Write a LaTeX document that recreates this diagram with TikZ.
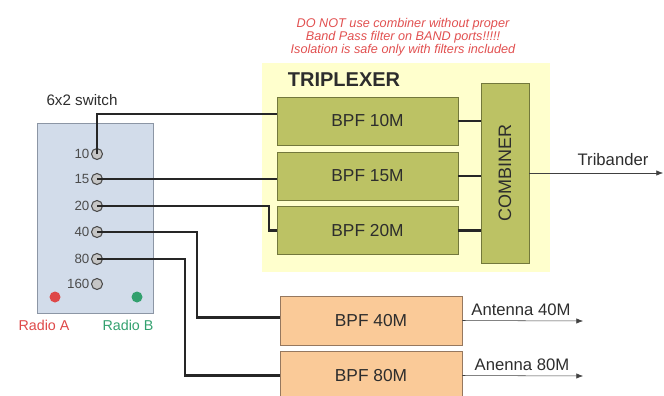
\documentclass[tikz,border=0pt]{standalone}
\usepackage{xcolor}
\usepackage{fontspec}
\setmainfont{Liberation Sans}
\usepackage{tikz}
\usetikzlibrary{arrows.meta,positioning,calc}

\definecolor{swfill}{RGB}{210,220,234}
\definecolor{swdraw}{RGB}{140,150,165}
\definecolor{tribg}{RGB}{255,255,205}
\definecolor{olivebox}{RGB}{188,194,100}
\definecolor{olivedraw}{RGB}{115,120,60}
\definecolor{orangebox}{RGB}{250,202,152}
\definecolor{orangedraw}{RGB}{150,120,95}
\definecolor{warnred}{RGB}{225,80,80}
\definecolor{radioA}{RGB}{222,72,72}
\definecolor{radioB}{RGB}{50,160,110}
\definecolor{txt}{RGB}{45,45,45}

\newcommand{\pu}{0.75pt}

\begin{document}
\begin{tikzpicture}[x=0.75pt, y=-0.75pt,
  bpf/.style={draw=olivedraw, fill=olivebox, minimum width=181*\pu, minimum height=48*\pu,
    inner sep=0pt, text=txt, font=\fontsize{13}{15}\selectfont},
  bpfo/.style={bpf, draw=orangedraw, fill=orangebox, minimum width=182*\pu, minimum height=49*\pu},
  port/.style={circle, draw=gray!60!black, line width=0.8pt, fill=gray!45, minimum size=11*\pu, inner sep=0pt},
  portlab/.style={font=\fontsize{10}{12}\selectfont, text=txt!85, inner sep=1pt},
  dot/.style={circle, minimum size=11*\pu, inner sep=0pt},
  wire/.style={line width=1.6pt, black!85},
  feed/.style={-{Latex[length=5pt,width=4pt]}, thin, black!75},
  lab/.style={font=\fontsize{12.5}{14}\selectfont, text=txt},
]
  \useasboundingbox (0,0) rectangle (664,396);

  % Warning note above the triplexer.
  \node[font=\fontsize{9.5}{9.6}\selectfont\itshape, text=warnred, align=center] (warn) at (403,37)
    {DO NOT use combiner without proper\\ Band Pass filter on BAND ports!!!!!\\ Isolation is safe only with filters included};

  % Switch box with its ports.
  \node[draw=swdraw, fill=swfill, minimum width=116*\pu, minimum height=190*\pu] (switch) at (95,218) {};
  \node[lab, font=\fontsize{11.4}{13}\selectfont] (swlab) at (82,100) {6x2 switch};
  \foreach \b/\y in {10/154, 15/179, 20/206, 40/232, 80/259, 160/284}
    \node[port, label={[portlab]left:\b}] (p\b) at (97,\y) {};
  \node[dot, fill=radioA] (dA) at (55,297) {};
  \node[dot, fill=radioB] (dB) at (137,297) {};
  \node[font=\fontsize{10.7}{12}\selectfont, text=radioA] (labA) at (44,325) {Radio A};
  \node[font=\fontsize{10.7}{12}\selectfont, text=radioB] (labB) at (128,325) {Radio B};

  % Triplexer: three filters and the combiner.
  \fill[tribg] (262,63) rectangle (550,272);
  \node[font=\fontsize{15}{17}\selectfont\bfseries, text=txt] (trilab) at (344,80) {TRIPLEXER};
  \node[bpf] (b10) at (367.5,121) {BPF 10M};
  \node[bpf] (b15) at (367.5,176) {BPF 15M};
  \node[bpf] (b20) at (367.5,230.5) {BPF 20M};
  \node[bpf, minimum width=48*\pu, minimum height=180*\pu] (comb) at (505,173) {};
  \node[rotate=90, text=txt, font=\fontsize{13.5}{15}\selectfont] (comblab) at (comb.center) {COMBINER};

  % Single band filters.
  \node[bpfo] (b40) at (371,320.5) {BPF 40M};
  \node[bpfo] (b80) at (371,375.5) {BPF 80M};

  % Wiring from the switch.
  \draw[wire] (p10.center) |- ([yshift=7*\pu]b10.west);
  \draw[wire] (p15.center) -- (p15 -| b15.west);
  \draw[wire] (p20.center) -| ($(b20.west)+(-8,0)$) -- (b20.west);
  \draw[wire] (p40.center) -| ($(b40.west)+(-83,-3)$) |- ([yshift=3*\pu]b40.west);
  \draw[wire] (p80.center) -| ($(b80.west)+(-95,0)$) -- (b80.west);
  \foreach \n in {b10, b15, b20}
    \draw[wire] (\n.east) -- (\n.east -| comb.west);

  % Outputs.
  \coordinate (tri) at (663,173);
  \coordinate (a40) at (583,321);
  \coordinate (a80) at (583,376);
  \draw[feed] (comb.east) -- (tri);
  \draw[feed] (b40.east) -- (a40);
  \draw[feed] (b80.east) -- (a80);
  \node[lab] (trilab2) at (613,160) {Tribander};
  \node[lab] (a40lab) at (521,310) {Antenna 40M};
  \node[lab] (a80lab) at (522,365) {Anenna 80M};
\end{tikzpicture}
\end{document}
